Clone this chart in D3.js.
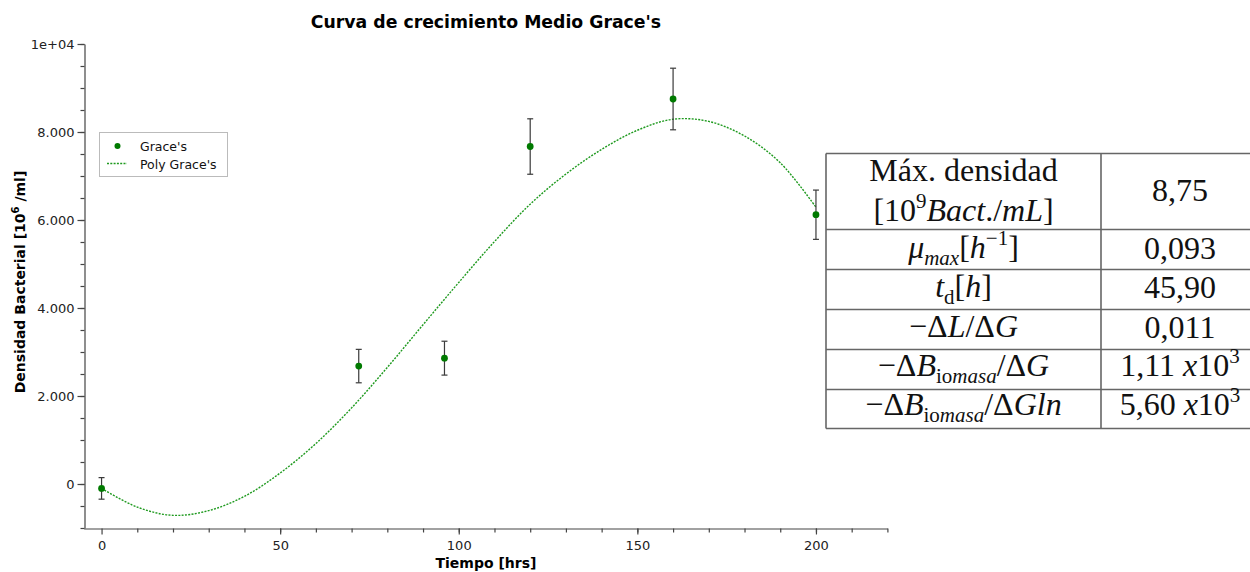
<!DOCTYPE html>
<html>
<head>
<meta charset="utf-8">
<script src="https://cdn.jsdelivr.net/npm/d3@7"></script>
<style>
  body { margin: 0; background: #fff; }
  text { font-family: "DejaVu Sans", Verdana, sans-serif; }
  .tbl text { font-family: "Liberation Serif", "Times New Roman", serif; }
</style>
</head>
<body>
<svg id="chart" width="1250" height="572"></svg>
<script>
// Measured bacterial density (10^6 /ml) over time, with error bars
const hours = [0, 72, 96, 120, 160, 200];
const density = [-100, 2680, 2860, 7670, 8750, 6120];
const densityErr = [245, 380, 385, 630, 700, 560];

// Polynomial fit, sampled every 10 h
const fitHours = [0, 10, 20, 30, 40, 50, 60, 70, 80, 90, 100, 110, 120, 130, 140, 150, 160, 170, 180, 190, 200];
const fitDensity = [-100, -525, -712, -605, -280, 250, 920, 1730, 2650, 3620, 4580, 5510, 6360, 7045, 7605, 8040, 8290, 8240, 7910, 7300, 6290];

// Axis ticks
const xMajorTicks = [0, 50, 100, 150, 200];
const yMajorTicks = [0, 2000, 4000, 6000, 8000, 10000];
const yTickLabels = ["0", "2.000", "4.000", "6.000", "8.000", "1e+04"];

// Summary table: parameter labels (rich text segments) and values
const tableLabels = [
  [[{t: "Máx. densidad"}],
   [{t: "[10"}, {t: "9", sup: true}, {t: "Bact", it: true}, {t: "./"}, {t: "mL", it: true}, {t: "]"}]],
  [[{t: "μ", it: true}, {t: "max", it: true, sub: true}, {t: "["}, {t: "h", it: true}, {t: "−1", sup: true}, {t: "]"}]],
  [[{t: "t", it: true}, {t: "d", sub: true}, {t: "["}, {t: "h", it: true}, {t: "]"}]],
  [[{t: "−Δ"}, {t: "L", it: true}, {t: "/Δ"}, {t: "G", it: true}]],
  [[{t: "−Δ"}, {t: "B", it: true}, {t: "io", sub: true}, {t: "masa", it: true, sub: true}, {t: "/Δ"}, {t: "G", it: true}]],
  [[{t: "−Δ"}, {t: "B", it: true}, {t: "io", sub: true}, {t: "masa", it: true, sub: true}, {t: "/Δ"}, {t: "Gln", it: true}]]
];
const tableValues = [
  [{t: "8,75"}],
  [{t: "0,093"}],
  [{t: "45,90"}],
  [{t: "0,011"}],
  [{t: "1,11 "}, {t: "x", it: true}, {t: "10"}, {t: "3", sup: true}],
  [{t: "5,60 "}, {t: "x", it: true}, {t: "10"}, {t: "3", sup: true}]
];

const svg = d3.select("#chart");

const x = d3.scaleLinear().domain([-5, 220]).range([83.7, 887.4]);
const y = d3.scaleLinear().domain([-1000, 10000]).range([528, 44]);

const axisColor = "#444";

// Title
svg.append("text")
  .attr("x", 486).attr("y", 28)
  .attr("text-anchor", "middle")
  .attr("font-size", 17.3).attr("font-weight", "bold").attr("fill", "#000")
  .text("Curva de crecimiento Medio Grace's");

// X axis (major + minor ticks)
const gx = svg.append("g").attr("transform", "translate(0,528.5)");
gx.call(d3.axisBottom(x).tickValues(xMajorTicks).tickSize(6).tickSizeOuter(0).tickPadding(6).tickFormat(d3.format("d")));
const gxMinor = svg.append("g").attr("transform", "translate(0,528.5)");
gxMinor.call(d3.axisBottom(x).tickValues(d3.range(10, 221, 10)).tickSize(4).tickFormat(""));
gxMinor.select(".domain").remove();

// Y axis (major + minor ticks)
const gy = svg.append("g").attr("transform", "translate(84.5,0)");
gy.call(d3.axisLeft(y).tickValues(yMajorTicks).tickSize(7).tickSizeOuter(0).tickPadding(3)
  .tickFormat((d, i) => yTickLabels[i]));
const gyMinor = svg.append("g").attr("transform", "translate(84.5,0)");
gyMinor.call(d3.axisLeft(y).tickValues(d3.range(-1000, 10001, 500)).tickSize(4).tickFormat(""));
gyMinor.select(".domain").remove();

svg.selectAll(".domain, .tick line").attr("stroke", axisColor).attr("stroke-width", 1.2);
svg.selectAll(".tick text").attr("font-size", 13).attr("fill", "#222")
  .attr("font-family", "\"DejaVu Sans\", Verdana, sans-serif");

// Axis titles
svg.append("text")
  .attr("x", 486).attr("y", 568)
  .attr("text-anchor", "middle")
  .attr("font-size", 14).attr("font-weight", "bold")
  .text("Tiempo [hrs]");

const yTitle = svg.append("text")
  .attr("transform", "translate(25,282) rotate(-90)")
  .attr("text-anchor", "middle")
  .attr("font-size", 14).attr("font-weight", "bold");
yTitle.append("tspan").text("Densidad Bacterial [10");
yTitle.append("tspan").attr("font-size", 10).attr("dy", -6).text("6");
yTitle.append("tspan").attr("dy", 6).text(" /ml]");

// Fitted polynomial curve
const fitPts = fitHours.map((h, i) => [h, fitDensity[i]]);
svg.append("path")
  .datum(fitPts)
  .attr("fill", "none")
  .attr("stroke", "#1f9a1f")
  .attr("stroke-width", 1.4)
  .attr("stroke-dasharray", "2,1.3")
  .attr("d", d3.line().x(d => x(d[0])).y(d => y(d[1])).curve(d3.curveCatmullRom));

// Error bars
const pts = hours.map((h, i) => ({h, v: density[i], e: densityErr[i]}));
const eb = svg.append("g").attr("stroke", "#3a3a3a").attr("stroke-width", 1.2);
eb.selectAll("line.v").data(pts).join("line").attr("class", "v")
  .attr("x1", d => x(d.h)).attr("x2", d => x(d.h))
  .attr("y1", d => y(d.v + d.e)).attr("y2", d => y(d.v - d.e));
eb.selectAll("line.t").data(pts).join("line").attr("class", "t")
  .attr("x1", d => x(d.h) - 3).attr("x2", d => x(d.h) + 3)
  .attr("y1", d => y(d.v + d.e)).attr("y2", d => y(d.v + d.e));
eb.selectAll("line.b").data(pts).join("line").attr("class", "b")
  .attr("x1", d => x(d.h) - 3).attr("x2", d => x(d.h) + 3)
  .attr("y1", d => y(d.v - d.e)).attr("y2", d => y(d.v - d.e));

// Data points
svg.append("g").selectAll("circle").data(pts).join("circle")
  .attr("cx", d => x(d.h)).attr("cy", d => y(d.v))
  .attr("r", 3.4).attr("fill", "#007a00");

// Legend
const lg = svg.append("g");
lg.append("rect").attr("x", 99.5).attr("y", 132.5).attr("width", 128).attr("height", 44)
  .attr("fill", "#fff").attr("stroke", "#777").attr("stroke-width", 1).attr("stroke-dasharray", "1,1");
lg.append("circle").attr("cx", 117.5).attr("cy", 146).attr("r", 3).attr("fill", "#007a00");
lg.append("text").attr("x", 140).attr("y", 151).attr("font-size", 12.5).attr("fill", "#111").text("Grace's");
lg.append("line").attr("x1", 107).attr("x2", 127).attr("y1", 163.5).attr("y2", 163.5)
  .attr("stroke", "#1f9a1f").attr("stroke-width", 1.4).attr("stroke-dasharray", "2,1.3");
lg.append("text").attr("x", 140).attr("y", 169).attr("font-size", 12.5).attr("fill", "#111").text("Poly Grace's");

// Summary table
const tbl = svg.append("g").attr("class", "tbl");
const colL = 826, colM = 1101, colR = 1259;
const rowEdges = [153.5, 229.5, 269.5, 309.5, 349.5, 389.5, 428.5];
const lineStroke = "#666";

rowEdges.forEach(yy => {
  tbl.append("line").attr("x1", colL).attr("x2", colR).attr("y1", yy).attr("y2", yy)
    .attr("stroke", lineStroke).attr("stroke-width", 1.6);
});
[colL, colM, colR].forEach(xx => {
  tbl.append("line").attr("x1", xx).attr("x2", xx).attr("y1", rowEdges[0]).attr("y2", rowEdges[6])
    .attr("stroke", lineStroke).attr("stroke-width", 1.6);
});

const baseSize = 32, smallSize = 21;
function richText(g, cx, by, segs) {
  const t = g.append("text").attr("x", cx).attr("y", by).attr("text-anchor", "middle")
    .attr("font-size", baseSize).attr("fill", "#111");
  let shift = 0;
  segs.forEach(s => {
    const target = s.sub ? 7 : s.sup ? -13 : 0;
    t.append("tspan")
      .attr("dy", target - shift)
      .attr("font-size", (s.sub || s.sup) ? smallSize : baseSize)
      .attr("font-style", s.it ? "italic" : "normal")
      .text(s.t);
    shift = target;
  });
  return t;
}

const labelX = (colL + colM) / 2;
const valueX = 1180;
const labelBaselines = [[181, 221], [258], [297], [337], [376], [415]];
const valueBaselines = [201, 259, 298, 338, 376, 415];

tableLabels.forEach((lines, r) => {
  lines.forEach((segs, k) => richText(tbl, labelX, labelBaselines[r][k], segs));
});
tableValues.forEach((segs, r) => richText(tbl, valueX, valueBaselines[r], segs));
</script>
</body>
</html>
